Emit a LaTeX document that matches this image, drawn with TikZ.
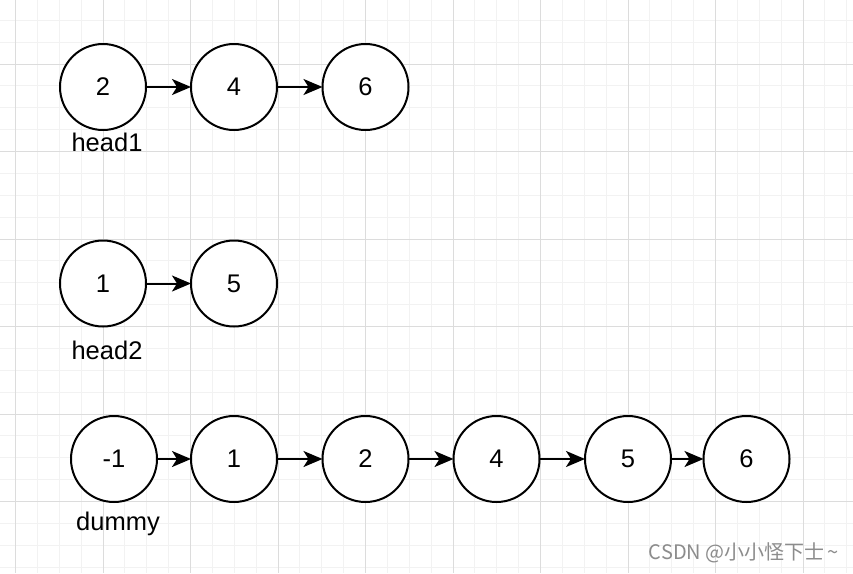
\documentclass[tikz,border=0pt]{standalone}
\usepackage{fontspec}
\setmainfont{Liberation Sans}
\newfontfamily\cjkwm{Noto Sans CJK SC}
\usetikzlibrary{arrows.meta}
\definecolor{minorgrid}{RGB}{242,242,242}
\definecolor{majorgrid}{RGB}{220,220,220}
\definecolor{wmgray}{RGB}{140,140,140}
\tikzset{
  lnode/.style={circle, draw=black, line width=2pt, fill=white, minimum size=86pt, inner sep=0pt, outer sep=0pt, font=\fontsize{25.5}{30}\selectfont},
  link/.style={line width=2pt, -{Stealth[length=19pt, width=16pt, inset=5pt]}},
  lbl/.style={font=\fontsize{25.5}{30}\selectfont, inner sep=0pt},
  mingrid/.style={draw=minorgrid, line width=1pt},
  majgrid/.style={draw=majorgrid, line width=1pt}
}
\begin{document}
\begin{tikzpicture}[x=1pt, y=-1pt]
\useasboundingbox (0,0) rectangle (853,573);
\fill[white] (0,0) rectangle (853,573);
% minor grid
\foreach \i in {0,...,39} {
  \draw[mingrid] ({15.5+(\i-1)*21.875},0) -- ({15.5+(\i-1)*21.875},573);
}
\foreach \i in {0,...,27} {
  \draw[mingrid] (0,{20.25+(\i-1)*21.875}) -- (853,{20.25+(\i-1)*21.875});
}
% major grid
\foreach \i in {0,...,9} {
  \draw[majgrid] ({15.5+\i*87.5},0) -- ({15.5+\i*87.5},573);
}
\foreach \i in {0,...,6} {
  \draw[majgrid] (0,{64+(\i-1)*87.5}) -- (853,{64+(\i-1)*87.5});
}
% list 1
\node[lnode] (a1) at (103,87) {2};
\node[lnode] (a2) at (234,87) {4};
\node[lnode] (a3) at (365.5,87) {6};
\draw[link] (a1) -- (a2);
\draw[link] (a2) -- (a3);
\node[lbl] (h1) at (107,142) {head1};
% list 2
\node[lnode] (b1) at (103,283.5) {1};
\node[lnode] (b2) at (234,283.5) {5};
\draw[link] (b1) -- (b2);
\node[lbl] (h2) at (107,350) {head2};
% merged
\node[lnode] (c0) at (114,459) {-1};
\node[lnode] (c1) at (234,459) {1};
\node[lnode] (c2) at (365.5,459) {2};
\node[lnode] (c3) at (496.5,459) {4};
\node[lnode] (c4) at (628,459) {5};
\node[lnode] (c5) at (746.5,459) {6};
\draw[link] (c0) -- (c1);
\draw[link] (c1) -- (c2);
\draw[link] (c2) -- (c3);
\draw[link] (c3) -- (c4);
\draw[link] (c4) -- (c5);
\node[lbl] (dm) at (118,524) {dummy};
% watermark
\node[inner sep=0pt, text=wmgray, font=\cjkwm\fontsize{20}{22}\selectfont] (wm) at (744,553) {CSDN @小小怪下士\,\textasciitilde};
\end{tikzpicture}
\end{document}
